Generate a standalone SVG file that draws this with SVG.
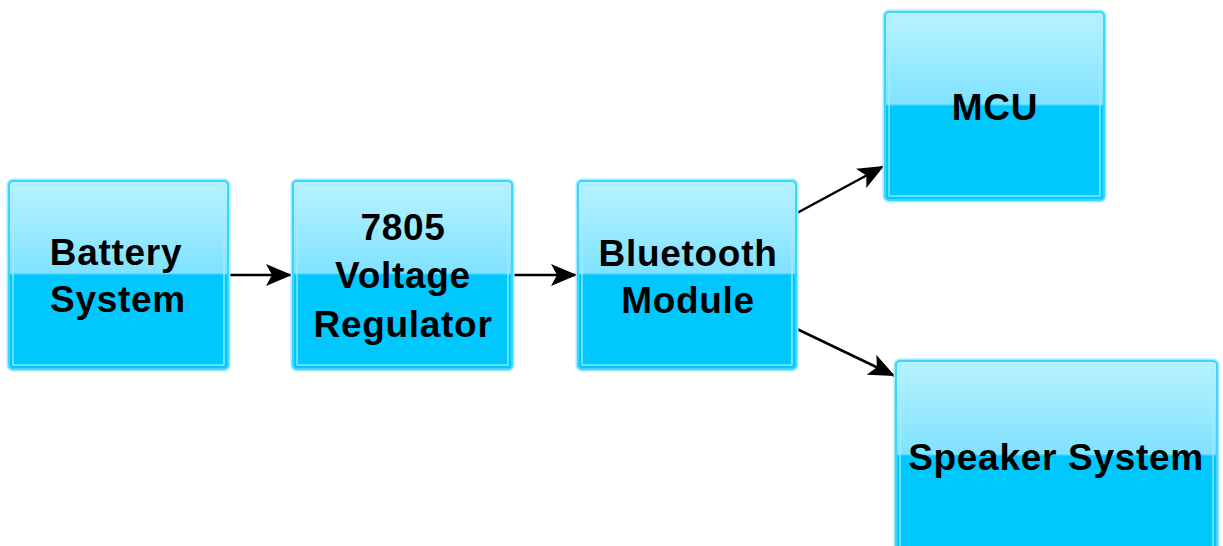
<svg xmlns="http://www.w3.org/2000/svg" width="1223" height="546" viewBox="0 0 1223 546">
<defs>
<linearGradient id="g" x1="0" y1="0" x2="0" y2="1">
<stop offset="0" stop-color="#b9f3ff"/>
<stop offset="0.49" stop-color="#7fe2ff"/>
<stop offset="0.5" stop-color="#00c8ff"/>
<stop offset="1" stop-color="#00c8ff"/>
</linearGradient>
<marker id="ah" viewBox="0 0 26 22" refX="26" refY="11" markerWidth="26" markerHeight="22" orient="auto" markerUnits="userSpaceOnUse">
<path d="M0,0 L26,11 L0,22 L6,11 z" fill="#000"/>
</marker>
</defs>
<style>
.glow{fill:none;stroke:#9fecff;stroke-width:5;}
.box{fill:url(#g);stroke:#3fd3ff;stroke-width:2;}
.inner{fill:none;stroke:#a6eeff;stroke-width:1.2;}
.t{font-family:"Liberation Sans",Arial,sans-serif;font-weight:bold;font-size:37px;letter-spacing:0.7px;fill:#000;text-anchor:middle;}
.c{fill:none;stroke:#000;stroke-width:2.5;marker-end:url(#ah);}
</style>
<rect width="1223" height="546" fill="#fff"/>
<g id="connectors">
<line class="c" x1="229" y1="275" x2="292" y2="275"/>
<line class="c" x1="513" y1="275" x2="577" y2="275"/>
<line class="c" x1="797" y1="213" x2="884" y2="166"/>
<line class="c" x1="797" y1="329" x2="895" y2="376"/>
</g>
<g id="battery">
<rect class="glow" x="9" y="181" width="219" height="188" rx="4"/>
<rect class="box" x="9" y="181" width="219" height="188" rx="4"/>
<rect class="inner" x="13" y="185" width="211" height="180"/>
<text class="t" x="116" y="265">Battery</text>
<text class="t" x="118" y="312">System</text>
</g>
<g id="regulator">
<rect class="glow" x="293" y="181" width="219" height="188" rx="4"/>
<rect class="box" x="293" y="181" width="219" height="188" rx="4"/>
<rect class="inner" x="297" y="185" width="211" height="180"/>
<text class="t" x="403" y="240">7805</text>
<text class="t" x="403" y="288">Voltage</text>
<text class="t" x="403" y="337">Regulator</text>
</g>
<g id="bluetooth">
<rect class="glow" x="578" y="181" width="218" height="188" rx="4"/>
<rect class="box" x="578" y="181" width="218" height="188" rx="4"/>
<rect class="inner" x="582" y="185" width="210" height="180"/>
<text class="t" x="688" y="266">Bluetooth</text>
<text class="t" x="688" y="313">Module</text>
</g>
<g id="mcu">
<rect class="glow" x="885" y="12" width="219" height="188" rx="4"/>
<rect class="box" x="885" y="12" width="219" height="188" rx="4"/>
<rect class="inner" x="889" y="16" width="211" height="180"/>
<text class="t" x="995" y="120">MCU</text>
</g>
<g id="speaker">
<rect class="glow" x="896" y="361" width="321" height="190" rx="4"/>
<rect class="box" x="896" y="361" width="321" height="190" rx="4"/>
<rect class="inner" x="900" y="365" width="313" height="182"/>
<text class="t" x="1056" y="470">Speaker System</text>
</g>
</svg>
